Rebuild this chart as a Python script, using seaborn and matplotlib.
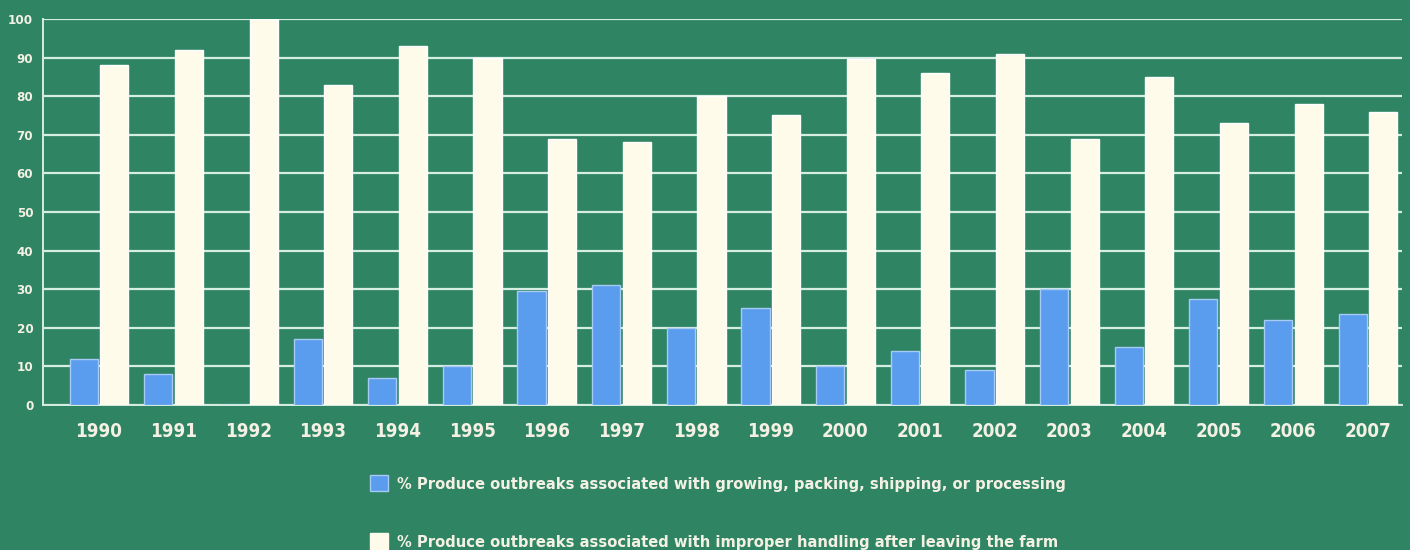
import matplotlib
matplotlib.use("Agg")
import matplotlib.pyplot as plt
import seaborn as sns
import pandas as pd

years = ["1990", "1991", "1992", "1993", "1994", "1995", "1996", "1997", "1998",
         "1999", "2000", "2001", "2002", "2003", "2004", "2005", "2006", "2007"]
growing_pct = [12, 8, 0, 17, 7, 10, 29.5, 31, 20, 25, 10, 14, 9, 30, 15, 27.5, 22, 23.5]
handling_pct = [88, 92, 100, 83, 93, 90, 69, 68, 80, 75, 89.5, 86, 91, 69, 85, 73, 78, 76]
series_labels = [
    "% Produce outbreaks associated with growing, packing, shipping, or processing",
    "% Produce outbreaks associated with improper handling after leaving the farm",
]
y_ticks = list(range(0, 101, 10))

BG = "#2e8463"
BLUE = "#5a9cee"
CREAM = "#fffbeb"
GRID = "#d6ede4"
TEXT = "#f4f1e4"

df = pd.DataFrame({
    "year": years * 2,
    "pct": growing_pct + handling_pct,
    "series": [series_labels[0]] * len(years) + [series_labels[1]] * len(years),
})

sns.set_theme(style="white")
plt.rcParams["font.family"] = ["DejaVu Sans"]
plt.rcParams["font.stretch"] = "condensed"

fig = plt.figure(figsize=(14.1, 5.5), dpi=100, facecolor=BG)
ax = fig.add_axes([0.0305, 0.2636, 0.9635, 0.702])
ax.set_facecolor(BG)

sns.barplot(data=df, x="year", y="pct", hue="series", order=years,
            hue_order=series_labels, palette=[BLUE, CREAM], saturation=1,
            width=0.82, gap=0.08, ax=ax, legend=False, zorder=3)

for bar in ax.patches[:len(years)]:
    bar.set_edgecolor("#a8cbf4")
    bar.set_linewidth(1.0)

ax.set_ylim(0, 100)
ax.set_xlim(-0.75, 17.45)
ax.set_yticks(y_ticks)
ax.set_yticklabels([str(t) for t in y_ticks], color=TEXT, fontsize=9.5,
                   fontweight="bold", fontstretch="condensed")
ax.set_xticks(range(len(years)))
ax.set_xticklabels(years, color=TEXT, fontsize=13.5, fontweight="bold",
                   fontstretch="condensed")
ax.tick_params(axis="x", length=0, pad=12)
ax.tick_params(axis="y", length=4, width=1, color=GRID, pad=5, direction="inout")
ax.set_xlabel("")
ax.set_ylabel("")

ax.yaxis.grid(True, color=GRID, linewidth=1.6, zorder=1)
ax.set_axisbelow(True)
for side in ("top", "right"):
    ax.spines[side].set_visible(False)
for side in ("left", "bottom"):
    ax.spines[side].set_color(GRID)
    ax.spines[side].set_linewidth(1.4)

handles = [plt.Rectangle((0, 0), 1, 1, facecolor=BLUE, edgecolor="#a8cbf4"),
           plt.Rectangle((0, 0), 1, 1, facecolor=CREAM, edgecolor=CREAM)]
leg = fig.legend(handles, series_labels, loc="upper left",
                 bbox_to_anchor=(0.258, 0.148), frameon=False,
                 handlelength=1.1, handleheight=1.1, handletextpad=0.5,
                 labelspacing=2.55, borderaxespad=0,
                 prop={"size": 11.8, "weight": "bold", "stretch": "condensed"})
for t in leg.get_texts():
    t.set_color(TEXT)

fig.savefig("out.png", dpi=100, facecolor=BG)
